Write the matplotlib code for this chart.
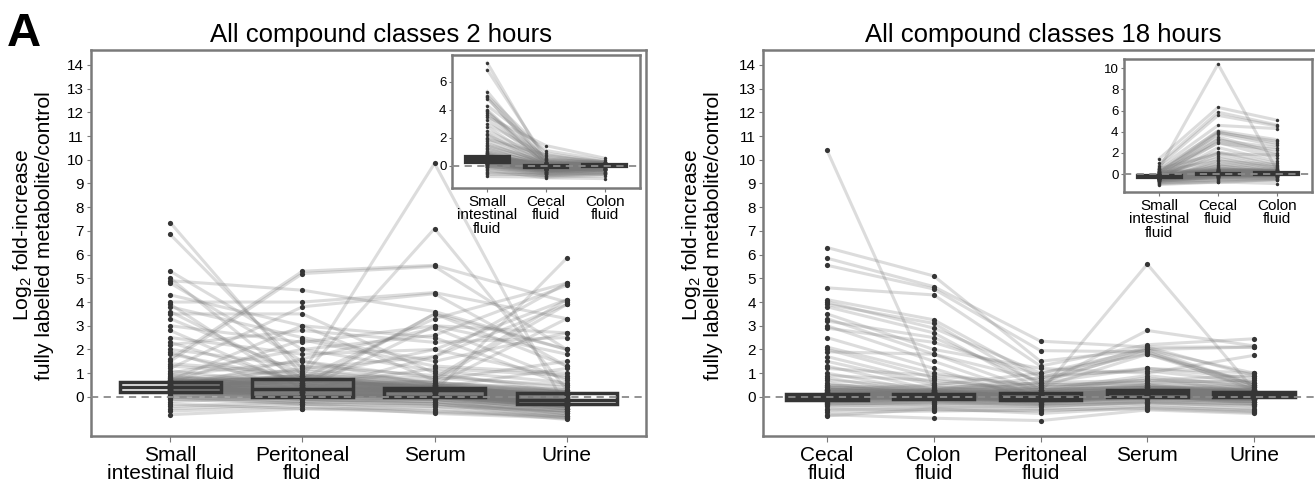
import numpy as np
import matplotlib
matplotlib.use("Agg")
import matplotlib.pyplot as plt

plt.rcParams['font.family'] = ['Liberation Sans', 'DejaVu Sans']
plt.rcParams['mathtext.fontset'] = 'custom'
plt.rcParams['mathtext.rm'] = 'Liberation Sans'

# ---- 2 hours: one value per metabolite in each fluid ----
labels_2h = ["Small\nintestinal fluid", "Peritoneal\nfluid", "Serum", "Urine"]
small_2h = [7.35, 6.85, 5.3, 5.0, 4.9, 4.8, 4.3, 4.0, 3.9, 3.8,
            3.6, 3.5, 3.3, 3.0, 2.8, 2.5, 2.3, 2.2, 2.0, 1.9,
            1.8, 1.6, 1.5, 1.4, 1.3, 1.2, 1.1, 1.0, 0.95, 0.9,
            0.85, 0.8, 0.78, 0.75, 0.72, 0.7, 0.68, 0.66, 0.64, 0.62,
            0.6, 0.58, 0.56, 0.54, 0.52, 0.5, 0.48, 0.46, 0.45, 0.44,
            0.42, 0.41, 0.40, 0.38, 0.36, 0.35, 0.33, 0.32, 0.30, 0.28,
            0.26, 0.25, 0.23, 0.22, 0.21, 0.20, 0.18, 0.15, 0.12, 0.10,
            0.05, 0.0, -0.05, -0.1, -0.2, -0.3, -0.4, -0.5, -0.6, -0.75,
            0.3, 0.5, 0.2, 0.6, 0.4, 0.7,
            0.55, 0.35, 0.65, 0.25, 0.45, 0.15, 0.5, 0.3, 0.6, 0.4,
            0.2, 0.7, 0.1, 0.5, 0.35, 0.45, 0.25, 0.55, 0.0, 0.4,
            0.3, 0.6, 0.15, 0.5, -0.1, 0.35, 0.45, 0.2, 0.65, 0.3]
perit_2h = [0.9, 1.2, 2.0, 0.5, 4.5, 1.5, 3.0, 4.0, 0.3, 2.5,
            0.8, 3.5, 1.0, 2.3, 0.4, 1.8, 0.6, 2.8, 1.3, 0.2,
            0.7, 5.3, 5.2, 1.0, 0.9, 3.8, 0.5, 2.0, 0.3, 1.5,
            0.4, 0.7, 0.2, 1.1, 0.5, 0.9, 0.0, 0.6, 0.8, 0.3,
            0.75, 0.1, 0.4, 0.9, 0.2, 0.6, 0.0, 0.35, 0.7, 0.15,
            0.5, 0.25, 0.8, 0.05, 0.4, 0.65, 0.1, 0.3, 0.55, 0.2,
            0.0, 0.45, 0.7, -0.1, 0.3, 0.15, 0.0, 0.4, -0.2, 0.1,
            0.2, -0.3, 0.05, -0.1, 0.0, -0.5, -0.2, -0.3, -0.4, -0.5,
            0.8, 1.2, 0.4, 2.4, 1.6, 3.0,
            0.6, 0.2, 0.8, 0.1, 0.5, 0.0, 0.7, 0.3, 0.9, 0.4,
            0.1, 0.6, -0.1, 0.45, 0.25, 0.75, 0.05, 0.55, -0.2, 0.35,
            0.15, 0.65, 0.0, 0.5, -0.3, 0.3, 0.7, 0.2, 0.85, 0.1]
serum_2h = [0.4, 0.6, 1.1, 3.5, 3.6, 0.8, 2.5, 4.4, 0.2, 1.5,
            3.3, 1.0, 0.5, 3.0, 0.7, 2.0, 0.1, 2.3, 0.9, 1.7,
            0.3, 5.55, 5.5, 9.85, 7.1, 4.35, 0.2, 2.6, 3.0, 0.5,
            1.2, 0.4, 0.0, 0.6, 0.3, 0.8, 0.1, 0.5, 0.3, 0.2,
            0.4, 0.0, 0.35, 0.25, 0.15, 0.3, -0.2, 0.4, 0.2, 0.1,
            0.3, 0.0, 0.45, 0.1, 0.25, 0.35, -0.1, 0.2, 0.05, 0.3,
            0.0, 0.15, 0.4, -0.3, 0.1, 0.2, 0.05, 0.2, -0.1, 0.0,
            0.15, -0.4, 0.1, -0.2, 0.0, -0.5, -0.3, -0.6, -0.7, -0.65,
            2.0, 1.7, 3.5, 1.3, 2.9, 0.7,
            0.3, 0.1, 0.5, 0.0, 0.35, -0.1, 0.4, 0.2, 0.6, 0.25,
            0.05, 0.45, -0.2, 0.3, 0.15, 0.5, -0.05, 0.35, -0.3, 0.2,
            0.1, 0.4, -0.1, 0.3, -0.4, 0.2, 0.45, 0.1, 0.55, 0.0]
urine_2h = [0.1, 0.3, 0.6, 1.3, 2.0, 4.1, 0.5, 3.3, -0.3, 2.7,
            4.8, 0.2, 0.0, 1.8, 1.5, 0.8, -0.4, 2.5, 0.4, 3.9,
            0.1, 4.0, 2.0, -0.5, 0.3, 1.3, 5.85, 4.7, 2.7, 3.3,
            0.9, 1.2, -0.3, 0.2, -0.2, 0.5, -0.5, 0.0, -0.1, 0.1,
            -0.2, -0.6, 0.15, -0.25, -0.1, 0.0, -0.8, 0.2, -0.15, -0.3,
            0.05, -0.4, 0.1, -0.2, -0.05, 0.1, -0.7, -0.25, -0.1, 0.15,
            -0.35, -0.15, 0.0, -0.9, -0.2, 0.05, -0.3, -0.1, -0.5, -0.2,
            -0.05, -0.6, -0.3, -0.7, -0.4, -0.95, -0.6, -0.8, -0.9, -0.85,
            4.1, 4.8, 2.0, 1.0, 0.7, 3.9,
            0.0, -0.3, 0.2, -0.4, -0.1, -0.5, 0.1, -0.2, 0.3, -0.15,
            -0.35, 0.05, -0.6, -0.05, -0.25, 0.15, -0.45, -0.1, -0.7, -0.2,
            -0.3, 0.1, -0.5, 0.0, -0.8, -0.2, 0.2, -0.35, 0.25, -0.4]
cecal_2h = [0.2, 0.5, 0.3, 0.9, 0.1, 0.4, 1.1, 0.2, 0.0, 0.6,
            0.3, 1.45, 0.2, 0.7, 0.1, 0.5, 0.0, 0.4, 0.3, 0.8,
            0.1, 0.2, 0.3, 0.1, 0.2, 0.0, 0.1, 0.2, -0.1, 0.0,
            -0.2, 0.1, -0.1, 0.0, -0.2, 0.1, -0.3, 0.0, -0.1, 0.0,
            -0.2, -0.1, 0.05, -0.15, 0.0, -0.05, -0.3, 0.1, -0.1, -0.2,
            0.0, -0.1, 0.1, -0.05, 0.0, -0.1, -0.4, 0.0, -0.15, 0.05,
            -0.2, -0.05, 0.0, -0.5, -0.1, 0.0, -0.2, 0.0, -0.3, -0.1,
            0.05, -0.4, -0.2, -0.6, -0.3, -0.85, -0.5, -0.7, -0.6, -0.8,
            0.0, 0.1, 0.0, 0.2, 0.1, 0.2,
            0.0, -0.2, 0.1, -0.3, -0.1, -0.4, 0.05, -0.15, 0.2, -0.1,
            -0.25, 0.0, -0.5, -0.05, -0.2, 0.1, -0.35, -0.1, -0.6, -0.15,
            -0.2, 0.05, -0.4, 0.0, -0.7, -0.15, 0.1, -0.3, 0.15, -0.3]
colon_2h = [0.1, 0.2, 0.1, 0.3, 0.0, 0.2, 0.4, 0.1, -0.1, 0.3,
            0.2, 0.55, 0.0, 0.3, 0.1, 0.2, -0.2, 0.3, 0.1, 0.2,
            0.0, 0.1, 0.2, 0.0, 0.1, -0.1, 0.0, 0.1, 0.0, 0.1,
            -0.1, 0.0, -0.1, 0.1, 0.0, 0.1, -0.2, 0.0, 0.1, 0.0,
            -0.1, 0.0, 0.05, 0.0, 0.1, 0.0, -0.2, 0.05, -0.05, 0.0,
            0.1, -0.1, 0.0, 0.05, 0.0, 0.1, -0.3, 0.0, -0.05, 0.1,
            -0.1, 0.0, 0.05, -0.4, 0.0, 0.1, -0.1, 0.0, -0.2, 0.0,
            0.05, -0.3, -0.1, -0.5, -0.2, -0.9, -0.3, -0.6, -0.5, -0.7,
            0.0, 0.1, 0.0, 0.1, 0.0, 0.1,
            0.05, -0.1, 0.1, -0.2, 0.0, -0.3, 0.1, -0.1, 0.15, 0.0,
            -0.15, 0.05, -0.4, 0.0, -0.1, 0.1, -0.25, 0.0, -0.5, -0.05,
            -0.1, 0.1, -0.3, 0.05, -0.6, -0.05, 0.1, -0.2, 0.1, -0.2]

# box statistics (q1, median, q3)
q1_2h = [0.21, 0.0, 0.0, -0.28]
med_2h = [0.42, 0.33, 0.27, -0.15]
q3_2h = [0.63, 0.76, 0.38, 0.17]
inset_labels_2h = ["Small\nintestinal\nfluid", "Cecal\nfluid", "Colon\nfluid"]
inset_q1_2h = [0.2, -0.15, -0.08]
inset_med_2h = [0.42, -0.05, 0.02]
inset_q3_2h = [0.7, 0.08, 0.12]

# ---- 18 hours ----
labels_18h = ["Cecal\nfluid", "Colon\nfluid", "Peritoneal\nfluid", "Serum", "Urine"]
cecal_18h = [10.4, 6.3, 5.85, 5.55, 4.6, 4.1, 4.0, 3.9, 3.8, 3.5,
             3.3, 3.2, 3.0, 2.9, 2.5, 2.1, 2.0, 1.9, 1.7, 1.5,
             1.3, 1.2, 1.0, 0.9, 0.8, 0.7, 0.6, 0.5, 0.45, 0.4,
             0.35, 0.3, 0.25, 0.2, 0.18, 0.15, 0.12, 0.1, 0.08, 0.06,
             0.05, 0.03, 0.02, 0.0, 0.0, -0.02, -0.04, -0.05, -0.06, -0.08,
             -0.1, -0.12, -0.15, -0.2, -0.25, -0.3, -0.35, -0.4, -0.5, -0.55,
             -0.65, -0.75, -0.8, 0.3, 0.1, 0.2, 0.0,
             0.1, -0.05, 0.2, -0.15, 0.05, 0.3, -0.1, 0.15, 0.0, 0.25,
             -0.2, 0.1, 0.05, -0.05, 0.35, 0.0, 0.12, -0.3, 0.08, 0.2,
             -0.1, 0.4, 0.0, 0.15, -0.25, 0.05, 0.3, -0.05, 0.1, 0.5]
colon_18h = [0.4, 5.1, 4.65, 4.55, 4.3, 3.25, 2.9, 3.1, 2.7, 2.0,
             1.8, 2.5, 1.5, 2.3, 1.2, 1.0, 0.8, 1.8, 0.6, 0.5,
             0.3, 0.9, 0.2, 0.7, 0.1, 0.4, 0.0, 0.3, 0.15, 0.2,
             0.05, 0.25, 0.1, 0.15, 0.0, 0.2, 0.08, 0.1, -0.05, 0.12,
             0.0, 0.05, -0.1, 0.1, 0.0, 0.05, -0.05, 0.02, -0.1, 0.0,
             -0.08, 0.03, -0.15, -0.1, -0.3, -0.2, -0.4, -0.3, -0.55, -0.45,
             -0.6, -0.9, -0.5, 0.5, 0.2, 0.3, 0.1,
             0.15, 0.0, 0.25, -0.1, 0.1, 0.2, -0.05, 0.1, 0.05, 0.3,
             -0.15, 0.15, 0.0, 0.05, 0.25, -0.05, 0.1, -0.25, 0.12, 0.15,
             -0.1, 0.3, 0.05, 0.2, -0.2, 0.0, 0.2, 0.0, 0.15, 0.35]
perit_18h = [0.1, 1.5, 2.35, 1.95, 1.3, 0.8, 1.0, 0.5, 0.3, 1.2,
             0.2, 0.6, 0.0, 0.9, -0.2, 0.4, 0.1, 0.7, 0.3, 0.2,
             -0.1, 0.5, 0.0, 0.3, -0.3, 0.2, 0.1, 0.0, 0.2, -0.1,
             0.15, 0.05, -0.05, 0.1, 0.0, 0.15, -0.05, 0.1, 0.0, 0.05,
             -0.1, 0.12, -0.15, 0.05, 0.0, 0.1, -0.05, 0.0, -0.1, 0.05,
             -0.12, 0.0, -0.2, -0.1, -0.3, -0.15, -0.5, -0.25, -0.6, -0.4,
             -0.55, -1.0, -0.7, 1.0, 0.6, 0.8, 0.4,
             0.05, -0.1, 0.2, -0.2, 0.0, 0.25, -0.15, 0.1, -0.05, 0.3,
             -0.3, 0.05, 0.1, -0.1, 0.4, -0.05, 0.15, -0.4, 0.0, 0.2,
             -0.2, 0.5, 0.0, 0.1, -0.35, -0.05, 0.3, -0.1, 0.05, 0.6]
serum_18h = [0.3, 2.0, 2.1, 1.9, 2.2, 1.2, 1.8, 2.8, 0.5, 1.0,
             0.8, 2.0, 0.3, 1.1, 0.1, 0.7, 0.2, 1.9, 0.4, 5.6,
             0.0, 0.6, 0.25, 0.9, 0.1, 0.5, 0.2, 0.35, 0.3, 0.15,
             0.4, 0.2, 0.1, 0.3, 0.05, 0.25, 0.2, 0.15, 0.1, 0.3,
             0.0, 0.25, -0.1, 0.2, 0.1, 0.3, 0.05, 0.15, 0.0, 0.2,
             0.1, 0.25, -0.05, 0.1, -0.2, 0.0, -0.3, -0.1, -0.4, -0.25,
             -0.5, -0.55, -0.45, 2.0, 1.2, 2.1, 1.8,
             0.2, 0.05, 0.35, -0.05, 0.15, 0.4, 0.0, 0.25, 0.1, 0.45,
             -0.15, 0.2, 0.25, 0.05, 0.5, 0.1, 0.3, -0.2, 0.15, 0.35,
             -0.05, 0.6, 0.1, 0.25, -0.25, 0.05, 0.4, 0.0, 0.2, 0.7]
urine_18h = [0.2, 0.5, 2.1, 0.3, 2.45, 0.8, 0.4, 2.15, 0.1, 1.75,
             0.2, 1.0, 0.0, 0.6, -0.1, 0.9, 0.3, 0.5, 0.2, 0.3,
             -0.2, 0.7, 0.1, 0.4, -0.3, 0.2, 0.0, 0.15, 0.25, 0.0,
             0.3, 0.1, -0.1, 0.2, 0.05, 0.3, 0.15, 0.1, 0.05, 0.2,
             -0.1, 0.25, -0.2, 0.1, 0.0, 0.2, -0.05, 0.1, -0.1, 0.15,
             0.0, 0.2, -0.15, 0.05, -0.3, -0.1, -0.5, -0.2, -0.6, -0.4,
             -0.65, -0.7, -0.55, 2.1, 1.0, 0.9, 0.6,
             0.15, 0.0, 0.3, -0.1, 0.1, 0.35, -0.05, 0.2, 0.05, 0.4,
             -0.2, 0.15, 0.2, 0.0, 0.45, 0.05, 0.25, -0.3, 0.1, 0.3,
             -0.15, 0.5, 0.05, 0.2, -0.35, 0.0, 0.35, -0.1, 0.15, 0.6]
small_18h = [0.5, 1.45, 1.0, 0.8, 0.6, 0.2, 0.4, 0.1, -0.2, 0.3,
             -0.3, 0.0, -0.4, 0.2, -0.5, 0.1, -0.3, 0.5, -0.2, 0.0,
             -0.6, 0.3, -0.4, 0.0, -0.5, -0.1, -0.3, -0.2, -0.35, -0.45,
             -0.2, -0.3, -0.4, -0.25, -0.35, -0.15, -0.3, -0.25, -0.4, -0.2,
             -0.45, -0.3, -0.5, -0.25, -0.35, -0.2, -0.4, -0.3, -0.45, -0.25,
             -0.35, -0.2, -0.5, -0.4, -0.6, -0.45, -0.7, -0.5, -0.8, -0.65,
             -0.9, -1.0, -0.85, 0.2, -0.1, 0.0, -0.2,
             -0.25, -0.4, -0.15, -0.5, -0.3, -0.1, -0.45, -0.2, -0.35, -0.05,
             -0.55, -0.3, -0.2, -0.4, 0.0, -0.35, -0.25, -0.65, -0.3, -0.15,
             -0.5, 0.1, -0.35, -0.2, -0.7, -0.4, -0.1, -0.45, -0.25, 0.2]

q1_18h = [-0.12, -0.08, -0.12, 0.0, 0.0]
med_18h = [0.0, 0.02, 0.0, 0.15, 0.1]
q3_18h = [0.12, 0.14, 0.15, 0.3, 0.22]
inset_labels_18h = ["Small\nintestinal\nfluid", "Cecal\nfluid", "Colon\nfluid"]
inset_q1_18h = [-0.42, -0.12, -0.05]
inset_med_18h = [-0.28, 0.0, 0.05]
inset_q3_18h = [-0.12, 0.12, 0.15]

FRAME = '#7a7a7a'
DARK = '#353535'


def draw(ax, series, q1, med, q3, dot_s, box_lw, filled):
    data = np.array(series)
    pos = np.arange(1, len(series) + 1)
    for j in range(data.shape[1]):
        ax.plot(pos, data[:, j], color='#7a7a7a', alpha=0.26, lw=2.2, zorder=1)
    for i in range(len(series)):
        ax.scatter(np.full(data.shape[1], pos[i]), data[i], s=dot_s,
                   color=DARK, linewidths=0, zorder=2)
    stats = [dict(q1=q1[i], med=med[i], q3=q3[i], whislo=q1[i], whishi=q3[i],
                  fliers=[]) for i in range(len(series))]
    boxprops = dict(edgecolor=DARK, lw=box_lw,
                    facecolor=DARK if filled else 'none')
    ax.bxp(stats, positions=pos, widths=0.76, showcaps=False, showfliers=False,
           patch_artist=True, boxprops=boxprops,
           medianprops=dict(color=DARK, lw=box_lw),
           whiskerprops=dict(lw=0), zorder=3)
    ax.axhline(0, color='#8a8a8a', lw=1.3, ls=(0, (4, 3)), zorder=4)
    for s in ax.spines.values():
        s.set_color(FRAME)
        s.set_linewidth(1.8)


def main_panel(rect, series, q1, med, q3, labels, label_x):
    ax = fig.add_axes(rect)
    draw(ax, series, q1, med, q3, 14, 2.5, False)
    ax.set_xlim(0.4, len(series) + 0.6)
    ax.set_ylim(-1.65, 14.63)
    ax.set_yticks(range(15))
    ax.set_xticks(range(1, len(series) + 1))
    ax.set_xticklabels(labels, fontsize=15, linespacing=0.98)
    ax.tick_params(axis='y', labelsize=11, length=3, color=FRAME, pad=2)
    ax.tick_params(axis='x', length=4, color=FRAME, pad=3)
    ax.set_ylabel("Log$_2$ fold-increase\nfully labelled metabolite/control",
                  fontsize=15.2, linespacing=1.05)
    ax.yaxis.set_label_coords(label_x, 0.52)
    return ax


def inset_panel(rect, series, q1, med, q3, labels, ylim, yticks):
    ax = fig.add_axes(rect)
    draw(ax, series, q1, med, q3, 6, 1.6, True)
    ax.set_xlim(0.4, 3.6)
    ax.set_ylim(*ylim)
    ax.set_yticks(yticks)
    ax.set_xticks([1, 2, 3])
    ax.set_xticklabels(labels, fontsize=11, linespacing=0.95)
    ax.tick_params(axis='y', labelsize=9.5, length=2.5, color=FRAME, pad=1.5)
    ax.tick_params(axis='x', length=3, color=FRAME, pad=2)
    return ax


W, H = 1315, 484
fig = plt.figure(figsize=(W / 100, H / 100), dpi=100)

main_panel([91 / W, 48 / H, 555 / W, 386 / H],
           [small_2h, perit_2h, serum_2h, urine_2h],
           q1_2h, med_2h, q3_2h, labels_2h, -0.067)
inset_panel([452 / W, 296 / H, 188 / W, 133 / H],
            [small_2h, cecal_2h, colon_2h],
            inset_q1_2h, inset_med_2h, inset_q3_2h, inset_labels_2h,
            (-1.57, 7.9), [0, 2, 4, 6])

main_panel([763 / W, 48 / H, 555 / W, 386 / H],
           [cecal_18h, colon_18h, perit_18h, serum_18h, urine_18h],
           q1_18h, med_18h, q3_18h, labels_18h, -0.072)
inset_panel([1124 / W, 292 / H, 188 / W, 133 / H],
            [small_18h, cecal_18h, colon_18h],
            inset_q1_18h, inset_med_18h, inset_q3_18h, inset_labels_18h,
            (-1.7, 10.88), [0, 2, 4, 6, 8, 10])

fig.text(381 / W, 1 - 42 / H, "All compound classes 2 hours", fontsize=18.5,
         ha='center', va='baseline')
fig.text(1043 / W, 1 - 42 / H, "All compound classes 18 hours", fontsize=18.5,
         ha='center', va='baseline')
fig.text(7 / W, 1 - 46 / H, "A", fontsize=34, fontweight='bold', va='baseline')

fig.savefig("out.png", dpi=100)
